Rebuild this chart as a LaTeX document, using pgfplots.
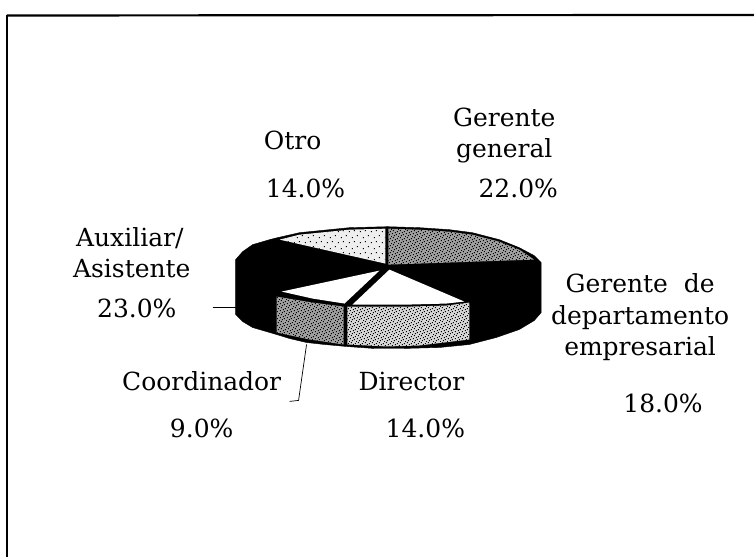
\documentclass[border=0pt]{standalone}
\usepackage{fontspec}
\setmainfont{DejaVu Serif}
\usepackage{pgfplots}
\pgfplotsset{compat=1.18}
\usetikzlibrary{patterns}
\definecolor{ggris}{RGB}{160,160,160}
\definecolor{otroc}{RGB}{238,238,238}
\definecolor{dirc}{RGB}{215,215,215}
\definecolor{coordc}{RGB}{160,160,160}
% moteado del escaneo
\pgfdeclarepatternformonly{moteado}{\pgfpointorigin}{\pgfqpoint{7pt}{7pt}}{\pgfqpoint{7pt}{7pt}}{
  \pgfpathrectangle{\pgfqpoint{0pt}{0pt}}{\pgfqpoint{1pt}{1pt}}
  \pgfpathrectangle{\pgfqpoint{3pt}{1pt}}{\pgfqpoint{1pt}{1pt}}
  \pgfpathrectangle{\pgfqpoint{5pt}{2pt}}{\pgfqpoint{1pt}{1pt}}
  \pgfpathrectangle{\pgfqpoint{1pt}{3pt}}{\pgfqpoint{1pt}{1pt}}
  \pgfpathrectangle{\pgfqpoint{4pt}{4pt}}{\pgfqpoint{1pt}{1pt}}
  \pgfpathrectangle{\pgfqpoint{6pt}{5pt}}{\pgfqpoint{1pt}{1pt}}
  \pgfpathrectangle{\pgfqpoint{2pt}{6pt}}{\pgfqpoint{1pt}{1pt}}
  \pgfusepath{fill}}
\pgfdeclarepatternformonly{ralo}{\pgfpointorigin}{\pgfqpoint{11pt}{11pt}}{\pgfqpoint{11pt}{11pt}}{
  \pgfpathrectangle{\pgfqpoint{1pt}{2pt}}{\pgfqpoint{1pt}{1pt}}
  \pgfpathrectangle{\pgfqpoint{6pt}{4pt}}{\pgfqpoint{1pt}{1pt}}
  \pgfpathrectangle{\pgfqpoint{9pt}{8pt}}{\pgfqpoint{1pt}{1pt}}
  \pgfpathrectangle{\pgfqpoint{3pt}{9pt}}{\pgfqpoint{1pt}{1pt}}
  \pgfusepath{fill}}
\tikzset{lab/.style={font=\fontsize{25}{30}\selectfont, text=black, inner sep=0pt, anchor=base}}
\begin{document}
\begin{tikzpicture}
\begin{axis}[
  scale only axis, width=755pt, height=558pt,
  xmin=0, xmax=755, ymin=0, ymax=558, y dir=reverse,
  hide axis, clip=false]
% fondo, fija el tamano de la pagina
\addplot[fill=white, draw=none] coordinates {(0,0) (755,0) (755,558) (0,558)} -- cycle;
% marco
\addplot[black, line width=2.2pt] coordinates {(7,15.5) (755,15)};
\addplot[black, line width=2.2pt] coordinates {(7,15) (7,558)};
% silueta negra (Gerente de departamento y Auxiliar)
\addplot[fill=black, draw=black] coordinates {
 (388,227) (420,228) (450,230) (473,233) (500,240) (520,248) (535,256) (542,263)
 (542,313) (535,321) (520,330) (497,338) (470,345) (440,348) (403,349) (375,349)
 (347,347) (325,345) (307,343) (290,339) (277,335) (253,328) (243,322) (236,315)
 (236,260) (243,252) (253,245) (270,240) (278,238) (300,233) (320,231) (350,228)} -- cycle;
% Gerente general
\addplot[pattern=moteado, pattern color=black, preaction={fill=ggris}, draw=none] coordinates {
 (389,265) (389,229) (420,230) (450,232) (473,235) (500,242) (520,250) (535,260)} -- cycle;
% Otro
\addplot[pattern=ralo, pattern color=black, preaction={fill=otroc}, draw=none] coordinates {
 (386,264) (386,229) (350,230) (320,233) (300,235) (280,240)} -- cycle;
% Director, cara superior
\addplot[fill=white, draw=none] coordinates {(390,270) (465,302) (447,304) (410,305) (353,305)} -- cycle;
% Coordinador, cara superior
\addplot[fill=white, draw=none] coordinates {(380,271) (345,304) (313,299) (282,292)} -- cycle;
% Director, lado
\addplot[pattern=moteado, pattern color=black, preaction={fill=dirc}, draw=none] coordinates {
 (470,303) (470,340) (420,346) (387,347) (348,345) (348,307) (410,307) (447,306)} -- cycle;
% Coordinador, lado
\addplot[pattern=moteado, pattern color=black, preaction={fill=coordc}, draw=none] coordinates {
 (277,297) (313,303) (344,307) (344,345) (310,340) (277,333)} -- cycle;
% guias
\addplot[black, line width=0.7pt] coordinates {(213,308) (236,308)};
\addplot[black, line width=0.7pt] coordinates {(307,345) (299,401) (290,402)};
% textos
\node[lab] at (axis cs:505,127) {Gerente};
\node[lab] at (axis cs:505,158) {general};
\node[lab] at (axis cs:519,198) {22.0\%};
\node[lab] at (axis cs:293,150) {Otro};
\node[lab] at (axis cs:306,198) {14.0\%};
\node[lab] at (axis cs:130,247) {Auxiliar/};
\node[lab] at (axis cs:132,278) {Asistente};
\node[lab] at (axis cs:137,318) {23.0\%};
\node[lab] at (axis cs:641,293) {Gerente\ \ de};
\node[lab] at (axis cs:641,325) {departamento};
\node[lab] at (axis cs:641,356) {empresarial};
\node[lab] at (axis cs:664,413) {18.0\%};
\node[lab] at (axis cs:202,391) {Coordinador};
\node[lab] at (axis cs:412,391) {Director};
\node[lab] at (axis cs:202,438) {9.0\%};
\node[lab] at (axis cs:426,438) {14.0\%};
\end{axis}
\end{tikzpicture}
\end{document}
